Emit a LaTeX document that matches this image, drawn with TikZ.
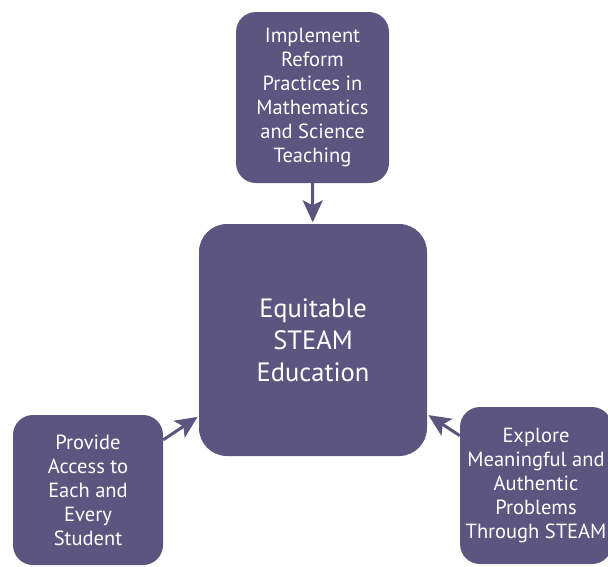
\documentclass[tikz,border=0pt]{standalone}
\usepackage{fontspec}
\setmainfont{PT Sans}
\usetikzlibrary{arrows.meta}
\definecolor{boxcol}{HTML}{5B5580}
\begin{document}
\begin{tikzpicture}[x=1pt,y=-1pt,
  box/.style={draw=none,fill=boxcol,rounded corners=20pt,text=white,align=center,inner sep=0pt,
    font=\fontsize{20.5}{24}\selectfont},
  conn/.style={draw=boxcol,line width=3pt,shorten >=1.5pt,-{Stealth[length=22pt,width=20pt,inset=5pt]}}]
\useasboundingbox (0,0) rectangle (608,566);
\node[box,minimum width=153pt,minimum height=171pt] (top) at (312.5,97.5)
  {Implement\\Reform\\Practices in\\Mathematics\\and Science\\Teaching};
\node[box,rounded corners=28pt,minimum width=228pt,minimum height=232pt,
  font=\fontsize{26.5}{32}\selectfont] (center) at (313,340)
  {Equitable\\STEAM\\Education};
\node[box,minimum width=150pt,minimum height=150pt] (left) at (88,490)
  {Provide\\Access to\\Each and\\Every\\Student};
\node[box,minimum width=152pt,minimum height=157pt] (right) at (536,485.5)
  {Explore\\Meaningful and\\Authentic\\Problems\\Through STEAM};
\draw[conn] (top) -- (center);
\draw[conn] (left) -- (center);
\draw[conn] (right) -- (center);
\end{tikzpicture}
\end{document}
